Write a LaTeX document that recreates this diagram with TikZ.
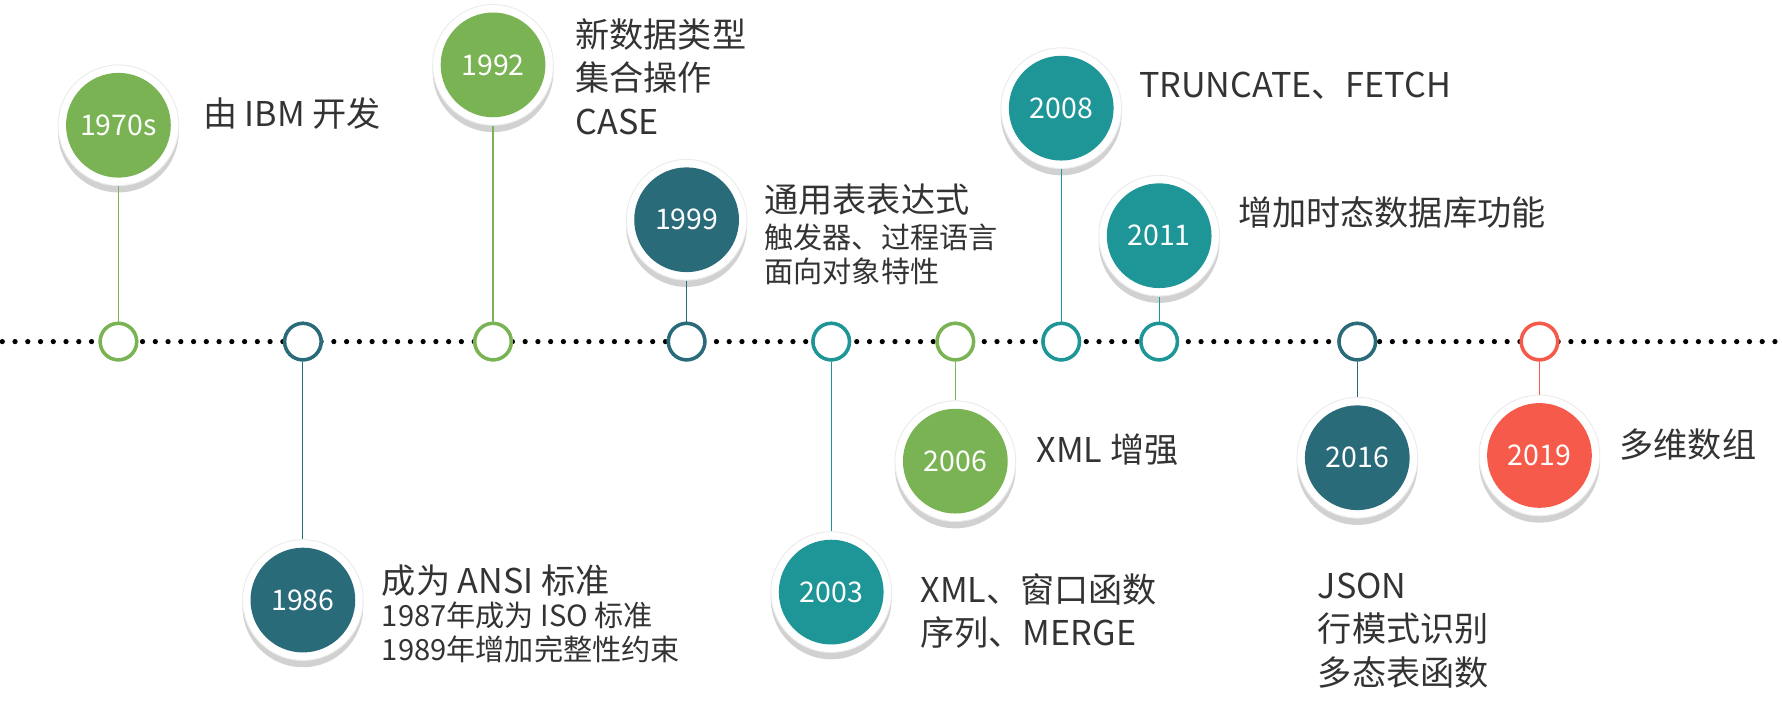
\documentclass[tikz,border=0pt]{standalone}
\usepackage{fontspec}
\setmainfont{Noto Sans CJK SC}
\usetikzlibrary{shadows}
\definecolor{cg}{HTML}{7AB353}
\definecolor{cd}{HTML}{2A6B7A}
\definecolor{ct}{HTML}{1E9596}
\definecolor{cr}{HTML}{F65A4A}
\definecolor{tx}{HTML}{333333}
\tikzset{
  px/.style={x=0.5pt,y=-0.5pt},
  small/.style={circle,draw=#1,line width=1.5pt,fill=white,minimum size=16pt,inner sep=0pt},
  ring/.style={circle,fill=white,draw=black!8,line width=0.4pt,minimum size=53pt,inner sep=0pt,
    drop shadow={shadow xshift=0pt,shadow yshift=-3pt,opacity=0.18,fill=black}},
  big/.style={circle,fill=#1,minimum size=46pt,inner sep=0pt,text=white,font=\fontsize{12.5}{14}\selectfont},
  conn/.style={draw=#1,line width=0.5pt},
  lab/.style={anchor=west,align=left,text=tx,inner sep=0pt,font=\fontsize{15}{19}\selectfont},
  labs/.style={anchor=west,align=left,text=tx,inner sep=0pt,font=\fontsize{12.8}{15}\selectfont}
}
\begin{document}
\begin{tikzpicture}[px]
\useasboundingbox (0,0) rectangle (1565,630);
\draw[line width=2.3pt,line cap=round,dash pattern=on 0pt off 5.6pt] (2,300) -- (1565,300);
\foreach \n/\x/\y/\c/\t in {a/104/110/cg/1970s,b/266/527/cd/1986,c/433/57/cg/1992,d/603/193/cd/1999,e/730/520/ct/2003,f/839/405/cg/2006,g/932/95/ct/2008,h/1018/207/ct/2011,i/1192/402/cd/2016,j/1352/400/cr/2019}{
  \node[small=\c] (s\n) at (\x,300) {};
  \node[ring] (r\n) at (\x,\y) {};
  \draw[conn=\c] (r\n) -- (s\n);
  \node[small=\c] at (\x,300) {};
  \node[big=\c] (y\n) at (\x,\y) {\t};
}
\node[lab] (ta) at (178,100) {由 IBM 开发};
\node[lab,anchor=north west] (tc) at (505,16) {新数据类型\\集合操作\\CASE};
\node[lab] (td1) at (671,175) {通用表表达式};
\node[labs,anchor=north west] (td2) at (671,196) {触发器、过程语言\\面向对象特性};
\node[lab] (tg) at (1000,75) {TRUNCATE、FETCH};
\node[lab] (th) at (1087,187) {增加时态数据库功能};
\node[lab] (tb1) at (335,510) {成为 ANSI 标准};
\node[labs,anchor=north west] (tb2) at (335,528) {1987年成为 ISO 标准\\1989年增加完整性约束};
\node[lab,anchor=north west] (te) at (808,503) {XML、窗口函数\\序列、MERGE};
\node[lab] (tf) at (910,395) {XML 增强};
\node[lab,anchor=north west] (ti) at (1157,503) {JSON\\行模式识别\\多态表函数};
\node[lab] (tj) at (1422,390) {多维数组};
\end{tikzpicture}
\end{document}
